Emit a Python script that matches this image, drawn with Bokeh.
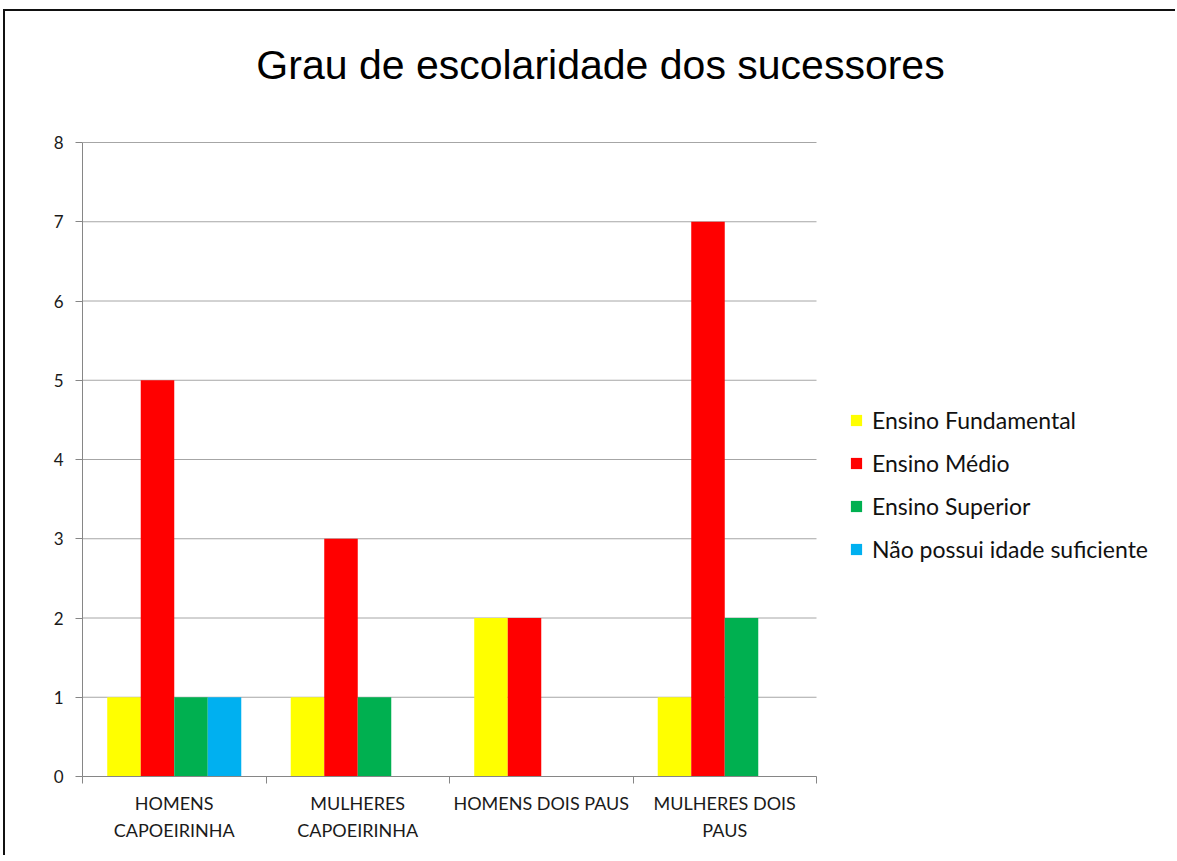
from bokeh.plotting import figure
from bokeh.models import Range1d, FixedTicker, Legend, LegendItem, Label
from bokeh.embed import file_html
from bokeh.resources import INLINE

groups = ["HOMENS\nCAPOEIRINHA", "MULHERES\nCAPOEIRINHA", "HOMENS DOIS PAUS", "MULHERES DOIS\nPAUS"]
series = ["Ensino Fundamental", "Ensino Médio", "Ensino Superior", "Não possui idade suficiente"]
fundamental = [1, 1, 2, 1]
medio = [5, 3, 2, 7]
superior = [1, 1, 0, 2]
sem_idade = [1, 0, 0, 0]
colors = ["#FFFF00", "#FF0000", "#00B050", "#00B0F0"]
y_ticks = [0, 1, 2, 3, 4, 5, 6, 7, 8]
title_text = "Grau de escolaridade dos sucessores"

# host placed at (3, 9) with a 2px border -> content origin (5, 11)
OX, OY = 5, 11
W, H = 1172, 846
FRAME_L, AXIS_T, FRAME_B = 82, 142, 776   # axis area in page pixels
CAT_PX = 183.5                             # pixel width of one category
UNIT_PX = (FRAME_B - AXIS_T) / 8.0         # pixels per unit on y
n = len(groups)
y_max = y_ticks[-1]
# frame extends to the right and top edges; axes/grid are bounded to the data area
x_end = (OX + W - FRAME_L) / CAT_PX
y_end = y_max + (AXIS_T - OY) / UNIT_PX

p = figure(width=W, height=H, output_backend="svg", toolbar_location=None,
           x_range=Range1d(0, x_end), y_range=Range1d(0, y_end),
           min_border_left=FRAME_L - OX, min_border_right=0, min_border_top=0,
           min_border_bottom=(OY + H) - FRAME_B, outline_line_color=None)
p.styles = {"margin-left": "3px", "margin-top": "9px", "border-right": "none",
            "border-left": "2px solid #111", "border-top": "2px solid #111"}

# title, centred at page x=600, vertically around page y=64
p.add_layout(Label(x=(600 - FRAME_L) / CAT_PX, y=(FRAME_B - 64) / UNIT_PX, text=title_text,
                   text_align="center", text_baseline="middle",
                   text_font="Liberation Sans", text_font_size="41px", text_color="#000000"))

# horizontal gridlines limited to the category area
p.xgrid.grid_line_color = None
p.ygrid.grid_line_color = None
p.segment(x0=[0] * len(y_ticks), x1=[n] * len(y_ticks), y0=y_ticks, y1=y_ticks,
          line_color="#a6a6a6", line_width=1)

bar_w = 0.1826
offsets = [-1.5 * bar_w, -0.5 * bar_w, 0.5 * bar_w, 1.5 * bar_w]
items = []
for vals, name, col, off in zip([fundamental, medio, superior, sem_idade], series, colors, offsets):
    xs = [i + 0.5 + off for i in range(n)]
    r = p.vbar(x=xs, top=vals, bottom=0, width=bar_w, fill_color=col, line_color=None)
    items.append(LegendItem(label=name, renderers=[r]))

# y axis
p.yaxis.bounds = (0, y_max)
p.yaxis.ticker = FixedTicker(ticks=y_ticks)
p.yaxis.axis_line_color = "#868686"
p.yaxis.major_tick_line_color = "#868686"
p.yaxis.major_tick_out = 7
p.yaxis.major_tick_in = 0
p.yaxis.minor_tick_line_color = None
p.yaxis.major_label_standoff = 12
p.yaxis.major_label_text_font = "Lato"
p.yaxis.major_label_text_font_size = "17px"
p.yaxis.major_label_text_color = "#1a1a1a"

# x axis: labels at centers, ticks at boundaries
centers = [i + 0.5 for i in range(n)]
p.xaxis.bounds = (0, n)
p.xaxis.ticker = FixedTicker(ticks=centers, minor_ticks=list(range(n + 1)))
p.xaxis.major_label_overrides = {c: g for c, g in zip(centers, groups)}
p.xaxis.axis_line_color = "#868686"
p.xaxis.major_tick_line_color = None
p.xaxis.major_tick_out = 0
p.xaxis.major_tick_in = 0
p.xaxis.minor_tick_line_color = "#868686"
p.xaxis.minor_tick_out = 7
p.xaxis.minor_tick_in = 0
p.xaxis.major_label_standoff = 8
p.xaxis.major_label_text_font = "Lato"
p.xaxis.major_label_text_font_size = "18px"
p.xaxis.major_label_text_color = "#1a1a1a"
p.xaxis.major_label_text_line_height = 1.25

legend = Legend(items=items, location=(767, 213), glyph_width=14, glyph_height=14,
                label_standoff=9, label_height=28, spacing=15, padding=0, margin=0,
                border_line_color=None, background_fill_alpha=0,
                label_text_font="Lato", label_text_font_size="23px", label_text_color="#111111")
p.add_layout(legend)

open("out.html", "w").write(file_html(p, INLINE))
